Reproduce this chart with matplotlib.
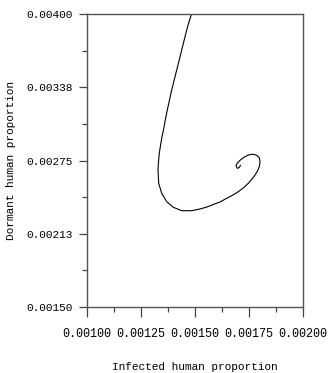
import matplotlib
matplotlib.use("Agg")
import matplotlib.pyplot as plt

# trajectory (infected, dormant)
infected = [0.0014838, 0.0014722, 0.0014616, 0.0014500, 0.0014384, 0.0014269, 0.0014153,
            0.0014037, 0.0013921, 0.0013820, 0.0013718, 0.0013625, 0.0013542, 0.0013472,
            0.0013407, 0.0013347, 0.0013310, 0.0013287, 0.0013319, 0.0013458, 0.0013690,
            0.0013995, 0.0014384, 0.0014847, 0.0015231, 0.0015556, 0.0015847, 0.0016157,
            0.0016468, 0.0016759, 0.0017005, 0.0017245, 0.0017468, 0.0017639, 0.0017778,
            0.0017894, 0.0017977, 0.0018009, 0.0017986, 0.0017884, 0.0017755, 0.0017625,
            0.0017454, 0.0017315, 0.0017176, 0.0017051, 0.0016958, 0.0016898, 0.0016958,
            0.0017037, 0.0017106]
dormant = [0.0040000, 0.0039317, 0.0038635, 0.0037782, 0.0036928, 0.0036075, 0.0035222,
           0.0034369, 0.0033516, 0.0032662, 0.0031809, 0.0030956, 0.0030103, 0.0029531,
           0.0028823, 0.0028115, 0.0027373, 0.0026690, 0.0025555, 0.0024702, 0.0023985,
           0.0023508, 0.0023218, 0.0023218, 0.0023363, 0.0023533, 0.0023747, 0.0023960,
           0.0024275, 0.0024557, 0.0024839, 0.0025171, 0.0025555, 0.0025922, 0.0026263,
           0.0026605, 0.0026972, 0.0027373, 0.0027714, 0.0027910, 0.0028013, 0.0028030,
           0.0027953, 0.0027825, 0.0027654, 0.0027458, 0.0027270, 0.0027057, 0.0026835,
           0.0026886, 0.0027074]

xticks = [0.00100, 0.00125, 0.00150, 0.00175, 0.00200]
xlabels = ["0.00100", "0.00125", "0.00150", "0.00175", "0.00200"]
yticks = [0.00150, 0.002125, 0.00275, 0.003375, 0.00400]
ylabels = ["0.00150", "0.00213", "0.00275", "0.00338", "0.00400"]

plt.rcParams['font.family'] = ['Liberation Mono', 'DejaVu Sans Mono']
fig = plt.figure(figsize=(3.28, 3.73), dpi=100)
ax = fig.add_axes([87/328, 1-307/373, 216/328, 293/373])

ax.plot(infected, dormant, color="black", lw=0.8)

ax.set_xlim(0.001, 0.002)
ax.set_ylim(0.0015, 0.004)
ax.set_xticks(xticks)
ax.set_xticklabels(xlabels, fontsize=8.5)
ax.set_yticks(yticks)
ax.set_yticklabels(ylabels, fontsize=8)
ax.set_xticks([0.001125, 0.001375, 0.001625, 0.001875], minor=True)
ax.set_yticks([0.0018125, 0.0024375, 0.0030625, 0.0036875], minor=True)
ax.tick_params(which="major", length=7, width=0.9, color="#444444")
ax.tick_params(which="minor", length=3.5, width=0.9, color="#444444")
ax.tick_params(axis="x", which="major", pad=8)
ax.tick_params(axis="y", which="major", length=6, pad=4)
for s in ax.spines.values():
    s.set_color("#555555")
    s.set_linewidth(1.0)

ax.set_xlabel("Infected human proportion", fontsize=8, labelpad=16)
ax.set_ylabel("Dormant human proportion", fontsize=8, labelpad=8)

fig.savefig("out.png", dpi=100)
